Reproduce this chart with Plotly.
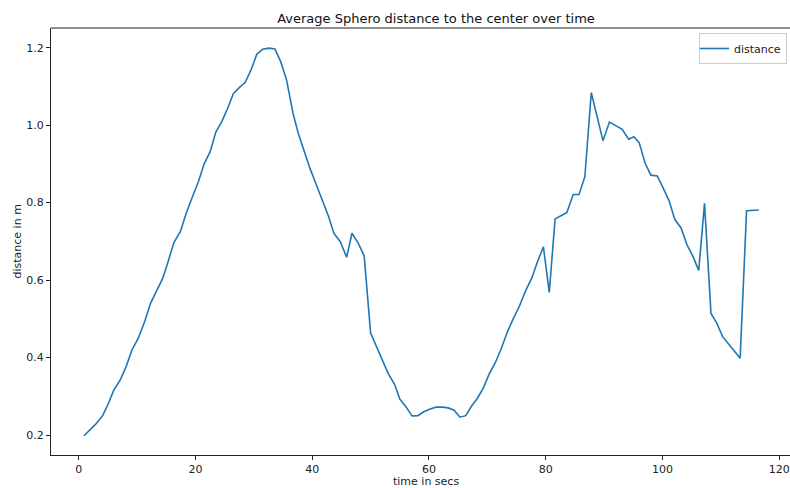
import plotly.graph_objects as go

# time in seconds
time_secs = [0.9, 1.9, 2.9, 4.1, 5.1, 6.0, 7.1, 8.1, 9.1, 10.2, 11.3, 12.3, 13.4, 14.4, 15.4,
             16.3, 17.4, 18.4, 19.4, 20.5, 21.5, 22.5, 23.5, 24.5, 25.5, 26.5, 27.5, 28.5,
             29.5, 30.5, 31.5, 32.6, 33.6, 34.6, 35.6, 36.7, 37.6, 38.6, 39.6, 40.6, 41.7,
             42.8, 43.7, 44.8, 45.9, 46.8, 47.9, 48.9, 50.0, 51.0, 52.0, 53.0, 54.1, 55.0,
             56.1, 57.1, 58.1, 59.1, 60.2, 61.2, 62.3, 63.3, 64.3, 65.3, 66.3, 67.3, 68.3,
             69.3, 70.3, 71.4, 72.4, 73.5, 74.4, 75.5, 76.6, 77.6, 78.6, 79.6, 80.6, 81.6,
             82.6, 83.6, 84.7, 85.7, 86.7, 87.8, 88.8, 89.8, 90.9, 92.0, 93.1, 94.2, 95.1,
             96.0, 97.0, 98.0, 99.1, 100.1, 101.1, 102.1, 103.2, 104.2, 105.2, 106.2, 107.2,
             108.3, 109.3, 110.3, 111.3, 112.4, 113.3, 114.4, 115.4, 116.5]

# average distance to the center, metres
distance = [0.198, 0.213, 0.228, 0.250, 0.282, 0.316, 0.342, 0.376, 0.419, 0.450, 0.493, 0.540,
            0.576, 0.605, 0.652, 0.697, 0.725, 0.772, 0.812, 0.854, 0.901, 0.931, 0.983, 1.009,
            1.043, 1.082, 1.097, 1.110, 1.142, 1.183, 1.196, 1.199, 1.197, 1.164, 1.117, 1.031,
            0.979, 0.931, 0.889, 0.850, 0.807, 0.764, 0.721, 0.699, 0.659, 0.721, 0.695, 0.662,
            0.463, 0.428, 0.394, 0.359, 0.331, 0.293, 0.272, 0.249, 0.250, 0.260, 0.267, 0.272,
            0.272, 0.270, 0.264, 0.246, 0.250, 0.275, 0.295, 0.321, 0.357, 0.388, 0.424, 0.469,
            0.499, 0.533, 0.574, 0.605, 0.648, 0.686, 0.568, 0.758, 0.766, 0.774, 0.821, 0.821,
            0.867, 1.084, 1.022, 0.960, 1.008, 0.998, 0.989, 0.964, 0.970, 0.955, 0.903, 0.871,
            0.869, 0.838, 0.806, 0.757, 0.734, 0.691, 0.662, 0.625, 0.798, 0.514, 0.489, 0.454,
            0.435, 0.415, 0.398, 0.779, 0.780, 0.781]

x_ticks = [0, 20, 40, 60, 80, 100, 120]
y_ticks = [0.2, 0.4, 0.6, 0.8, 1.0, 1.2]

FONT = "DejaVu Sans"
W, H = 790, 488
ML, MR, MT, MB = 51, 0, 28, 33
PW = W - ML - MR
PH = H - MT - MB

fig = go.Figure()
fig.add_trace(go.Scatter(x=time_secs, y=distance, mode="lines", name="distance",
                         line=dict(color="#1f77b4", width=1.6)))

axis_common = dict(showgrid=False, zeroline=False, showline=True, linecolor="#222",
                   linewidth=1, ticks="outside", ticklen=4, tickwidth=1, tickcolor="#222",
                   tickfont=dict(family=FONT, size=11, color="#222"))

fig.update_layout(
    width=W, height=H,
    margin=dict(l=ML, r=MR, t=MT, b=MB, pad=0),
    paper_bgcolor="white", plot_bgcolor="white",
    font=dict(family=FONT, size=11, color="#222"),
    title=dict(text="Average Sphero distance to the center over time",
               font=dict(family=FONT, size=13, color="#111"),
               x=(436 - ML) / PW, xref="paper", xanchor="center",
               y=1 - 18 / H, yanchor="middle"),
    xaxis=dict(range=[-4.75, 121.84], tickvals=x_ticks, mirror=False, **axis_common),
    yaxis=dict(range=[0.1484, 1.2509], tickvals=y_ticks, tickformat=".1f", **axis_common),
    showlegend=True,
    legend=dict(x=(787 - ML) / PW, y=1 - 5 / PH, xanchor="right", yanchor="top",
                bgcolor="white", bordercolor="#ccc", borderwidth=1,
                font=dict(family=FONT, size=11, color="#222"),
                itemwidth=30, tracegroupgap=0, indentation=-6),
    shapes=[dict(type="line", xref="paper", yref="paper", x0=0, x1=1, y0=1, y1=1,
                 line=dict(color="#222", width=1))],
    annotations=[
        dict(text="time in secs", xref="paper", yref="paper",
             x=(426 - ML) / PW, y=-(481 - (H - MB)) / PH,
             xanchor="center", yanchor="middle", showarrow=False,
             font=dict(family=FONT, size=11, color="#222")),
        dict(text="distance in m", xref="paper", yref="paper",
             x=-(ML - 17) / PW, y=0.5, textangle=-90,
             xanchor="center", yanchor="middle", showarrow=False,
             font=dict(family=FONT, size=11, color="#222")),
    ],
)

fig.write_html("out.html")
